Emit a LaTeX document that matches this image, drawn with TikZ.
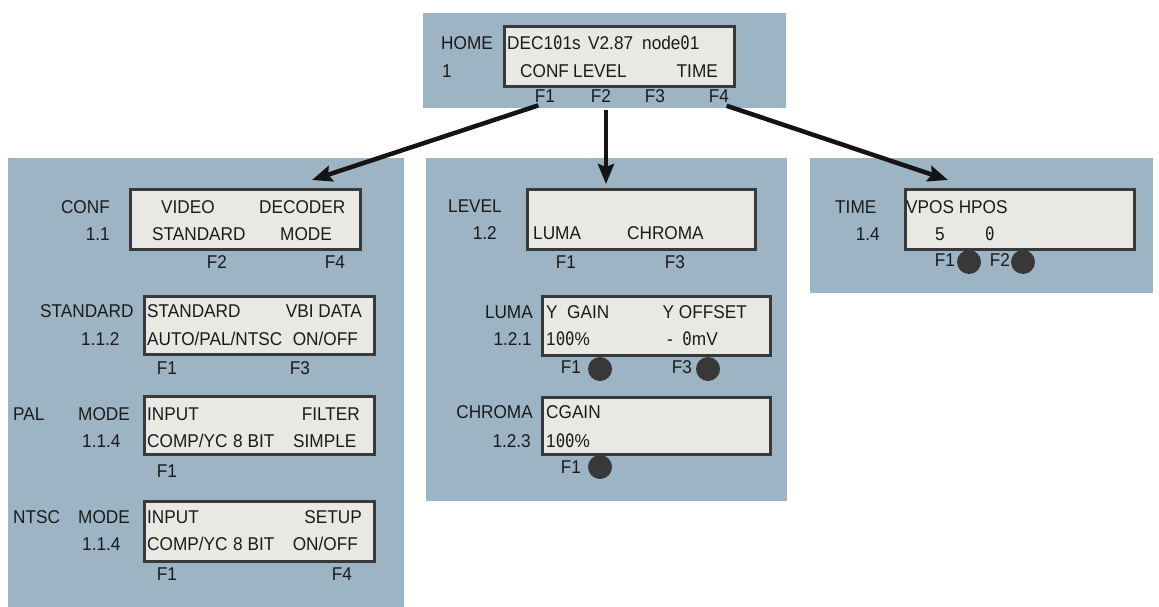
\documentclass[tikz,border=0pt]{standalone}
\usepackage{fontspec}
\setmainfont{Liberation Sans}[FakeStretch=0.93]
\newfontfamily\lcdzerofont{DejaVu Sans Mono}[FakeStretch=0.85]
\newcommand\zr{{\lcdzerofont 0}}
\usetikzlibrary{arrows.meta}

\definecolor{panel}{HTML}{9DB4C5}
\definecolor{lcdfill}{HTML}{E8E8E5}
\definecolor{lcdline}{HTML}{38393B}
\definecolor{ink}{HTML}{1A1A1A}
\definecolor{knob}{HTML}{383838}

\tikzset{
  panelbox/.style={fill=panel, draw=none, anchor=north west, inner sep=0pt},
  lcd/.style={fill=lcdfill, draw=lcdline, line width=3pt, anchor=north west, inner sep=0pt},
  lbl/.style={text=ink, inner sep=0pt, font=\fontsize{18.5}{21}\selectfont},
  lw/.style={lbl, anchor=base west},
  le/.style={lbl, anchor=base east},
  lc/.style={lbl, anchor=base},
  knobc/.style={circle, fill=knob, minimum size=24pt, inner sep=0pt},
  arr/.style={draw=black!92, line width=4.5pt,
    -{Stealth[length=20pt,width=16pt,inset=3pt]}}
}

\begin{document}
\begin{tikzpicture}[x=1pt,y=-1pt]
\fill[white] (0,0) rectangle (1159,607);
\useasboundingbox (0,0) rectangle (1159,607);

% ---------- background panels ----------
\node[panelbox, minimum width=363pt, minimum height=95pt]  (phome)  at (423,13)  {};
\node[panelbox, minimum width=396pt, minimum height=449pt] (pconf)  at (8,158)   {};
\node[panelbox, minimum width=361pt, minimum height=343pt] (plevel) at (426,158) {};
\node[panelbox, minimum width=343pt, minimum height=135pt] (ptime)  at (810,158) {};

% ---------- HOME ----------
\node[lcd, minimum width=230pt, minimum height=60pt] (hbox) at (503,25) {};
\node[lw] (hname) at (441,50) {HOME};
\node[lw] (hnum)  at (442,78) {1};
\node[lw] (h1a) at (507,50) {DEC1\zr1s};
\node[lw] (h1b) at (588,50) {V2.87};
\node[lw] (h1c) at (642,50) {node\zr1};
\node[lw] (h2a) at (520,78) {CONF};
\node[lw] (h2b) at (573,78) {LEVEL};
\node[le] (h2c) at (718,78) {TIME};
\node[lc] (hF1) at (545,103) {F1};
\node[lc] (hF2) at (601,103) {F2};
\node[lc] (hF3) at (655,103) {F3};
\node[lc] (hF4) at (719,103) {F4};

% ---------- CONF 1.1 ----------
\node[lcd, minimum width=230pt, minimum height=60pt] (cbox) at (129,188) {};
\node[le] (cname) at (110,213) {CONF};
\node[le] (cnum)  at (110,240) {1.1};
\node[lw] (c1a) at (161,213) {VIDEO};
\node[lw] (c1b) at (259,213) {DECODER};
\node[lw] (c2a) at (152,240) {STANDARD};
\node[lw] (c2b) at (280,240) {MODE};
\node[lc] (cF2) at (217,268) {F2};
\node[lc] (cF4) at (335,268) {F4};

% ---------- STANDARD 1.1.2 ----------
\node[lcd, minimum width=230pt, minimum height=58pt] (sbox) at (143,295) {};
\node[lw] (sname) at (40,317) {STANDARD};
\node[lw] (snum)  at (81,345) {1.1.2};
\node[lw] (s1a) at (147,317) {STANDARD};
\node[le] (s1b) at (362,317) {VBI DATA};
\node[lw] (s2a) at (147,345) {AUTO/PAL/NTSC};
\node[le] (s2b) at (358,345) {ON/OFF};
\node[lc] (sF1) at (167,374) {F1};
\node[lc] (sF3) at (300,374) {F3};

% ---------- PAL MODE 1.1.4 ----------
\node[lcd, minimum width=230pt, minimum height=58pt] (pbox) at (143,395) {};
\node[lw] (pname) at (13,420) {PAL};
\node[lw] (pmode) at (78,420) {MODE};
\node[lw] (pnum)  at (82,447) {1.1.4};
\node[lw] (p1a) at (147,420) {INPUT};
\node[le] (p1b) at (360,420) {FILTER};
\node[lw] (p2a) at (147,447) {COMP/YC};
\node[lw] (p2b) at (233,447) {8 BIT};
\node[lw] (p2c) at (293,447) {SIMPLE};
\node[lc] (pF1) at (167,477) {F1};

% ---------- NTSC MODE 1.1.4 ----------
\node[lcd, minimum width=230pt, minimum height=60pt] (nbox) at (143,500) {};
\node[lw] (nname) at (13,523) {NTSC};
\node[lw] (nmode) at (78,523) {MODE};
\node[lw] (nnum)  at (82,550) {1.1.4};
\node[lw] (n1a) at (147,523) {INPUT};
\node[le] (n1b) at (362,523) {SETUP};
\node[lw] (n2a) at (147,550) {COMP/YC};
\node[lw] (n2b) at (233,550) {8 BIT};
\node[le] (n2c) at (358,550) {ON/OFF};
\node[lc] (nF1) at (167,580) {F1};
\node[lc] (nF4) at (342,580) {F4};

% ---------- LEVEL 1.2 ----------
\node[lcd, minimum width=228pt, minimum height=60pt] (lbox) at (526,188) {};
\node[lw] (lname) at (448,212) {LEVEL};
\node[le] (lnum)  at (497,239) {1.2};
\node[lw] (l2a) at (533,239) {LUMA};
\node[lw] (l2b) at (627,239) {CHROMA};
\node[lc] (lF1) at (566,268) {F1};
\node[lc] (lF3) at (675,268) {F3};

% ---------- LUMA 1.2.1 ----------
\node[lcd, minimum width=228pt, minimum height=59pt] (ubox) at (541,295) {};
\node[le] (uname) at (533,318) {LUMA};
\node[le] (unum)  at (532,345) {1.2.1};
\node[lw] (u1a) at (546,318) {Y\ \ GAIN};
\node[le] (u1b) at (747,318) {Y OFFSET};
\node[lw] (u2a) at (546,345) {1\zr\zr\%};
\node[lw] (u2b) at (667,345) {-\ \ \zr mV};
\node[lc] (uF1) at (571,373) {F1};
\node[knobc] (uk1) at (600,369) {};
\node[lc] (uF3) at (682,373) {F3};
\node[knobc] (uk3) at (708,369) {};

% ---------- CHROMA 1.2.3 ----------
\node[lcd, minimum width=228pt, minimum height=57pt] (gbox) at (541,396) {};
\node[le] (gname) at (533,418) {CHROMA};
\node[le] (gnum)  at (531,447) {1.2.3};
\node[lw] (g1a) at (546,418) {CGAIN};
\node[lw] (g2a) at (546,447) {1\zr\zr\%};
\node[lc] (gF1) at (571,473) {F1};
\node[knobc] (gk1) at (600,467) {};

% ---------- TIME 1.4 ----------
\node[lcd, minimum width=229pt, minimum height=60pt] (tbox) at (904,188) {};
\node[lw] (tname) at (835,213) {TIME};
\node[le] (tnum)  at (880,240) {1.4};
\node[lw] (t1a) at (906,213) {VPOS HPOS};
\node[lw] (t2a) at (935,240) {5};
\node[lw] (t2b) at (985,240) {\zr};
\node[lc] (tF1) at (945,266) {F1};
\node[knobc] (tk1) at (969,262) {};
\node[lc] (tF2) at (1000,266) {F2};
\node[knobc] (tk2) at (1023,262) {};

% ---------- menu arrows ----------
\coordinate (tipconf)  at (312,180);
\coordinate (tiplevel) at (606,184);
\coordinate (tiptime)  at (948,180);
\draw[arr, shorten <=7pt] (hF1.south) -- (tipconf);
\draw[arr, shorten <=7pt] (tiplevel |- hF2.south) -- (tiplevel);
\draw[arr, shorten <=8pt] (hF4.south) -- (tiptime);
\end{tikzpicture}
\end{document}
